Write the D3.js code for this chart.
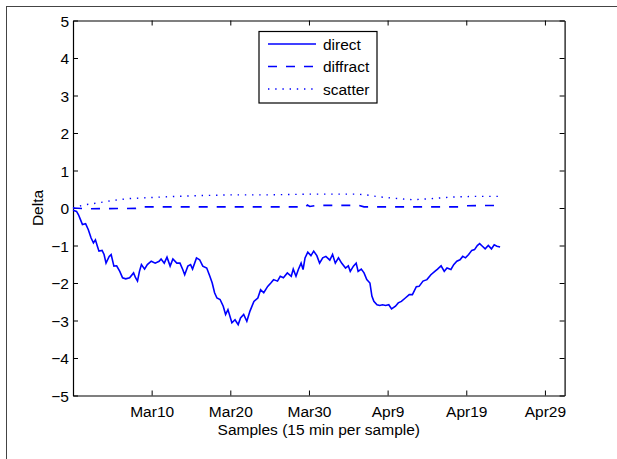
<!DOCTYPE html>
<html>
<head>
<meta charset="utf-8">
<script src="https://cdn.jsdelivr.net/npm/d3@7"></script>
<style>
  body { margin: 0; background: #fff; }
  svg text { font-family: "Liberation Sans", Arial, Helvetica, sans-serif; }
</style>
</head>
<body>
<div id="chart"></div>
<script>
// x values are days since the start of the record (Feb 28), 96 samples per day
const startDate = Date.UTC(2010, 1, 28);
const spanDays = 62.5;

const directDays = [0, 0.45, 0.7, 0.95, 1.2, 1.6, 1.95, 2.3, 2.6, 2.85, 3.1, 3.3, 3.7, 3.95, 4.2, 4.6, 4.85,
  5.2, 5.55, 5.95, 6.3, 6.7, 7.2, 7.7, 7.95, 8.2, 8.45, 8.7, 9.1, 9.45, 9.95, 10.45, 10.95, 11.2, 11.6,
  11.95, 12.35, 12.7, 13.2, 13.6, 13.95, 14.2, 14.6, 14.95, 15.2, 15.7, 16.1, 16.5, 17.0, 17.4, 17.7,
  18.0, 18.3, 18.7, 19.1, 19.4, 19.7, 20.2, 20.6, 21.0, 21.3, 21.7, 22.1, 22.5, 23.0, 23.5, 23.85,
  24.25, 24.75, 25.15, 25.5, 26.0, 26.35, 26.75, 27.25, 27.75, 28.0, 28.35, 28.65, 29.0, 29.25, 29.5,
  29.85, 30.25, 30.6, 31.0, 31.35, 31.75, 32.15, 32.65, 33.0, 33.35, 33.75, 34.15, 34.65, 35.0, 35.25,
  35.65, 36.0, 36.25, 36.65, 37.0, 37.35, 37.75, 38.0, 38.25, 38.65, 39.0, 39.35, 39.75, 40.15, 40.5,
  41.0, 41.35, 41.75, 42.25, 42.75, 43.15, 43.65, 44.0, 44.5, 45.0, 45.5, 46.0, 46.35, 46.8, 47.2,
  47.55, 48.05, 48.4, 48.8, 49.2, 49.55, 49.9, 50.3, 50.7, 51.05, 51.4, 51.7, 52.05, 52.4, 52.8, 53.2,
  53.55, 53.9, 54.3];
const directValues = [-0.06, -0.09, -0.18, -0.31, -0.44, -0.42, -0.58, -0.8, -0.93, -0.85, -1.02, -1.15,
  -1.13, -1.24, -1.47, -1.29, -1.24, -1.55, -1.54, -1.69, -1.86, -1.89, -1.86, -1.73, -1.86, -1.95,
  -1.69, -1.51, -1.63, -1.51, -1.42, -1.47, -1.42, -1.36, -1.47, -1.31, -1.55, -1.36, -1.47, -1.47,
  -1.64, -1.78, -1.55, -1.51, -1.63, -1.33, -1.38, -1.55, -1.6, -1.82, -2.0, -2.26, -2.4, -2.44, -2.62,
  -2.84, -2.71, -3.06, -2.98, -3.11, -2.93, -2.84, -3.02, -2.75, -2.49, -2.4, -2.18, -2.26, -2.09,
  -2.0, -1.91, -1.95, -1.82, -1.86, -1.73, -1.82, -1.63, -1.82, -1.64, -1.47, -1.64, -1.33, -1.18,
  -1.27, -1.15, -1.27, -1.47, -1.33, -1.29, -1.39, -1.24, -1.47, -1.33, -1.47, -1.6, -1.54, -1.69,
  -1.55, -1.47, -1.69, -1.63, -1.73, -1.91, -2.0, -2.35, -2.49, -2.58, -2.6, -2.58, -2.6, -2.58,
  -2.69, -2.62, -2.53, -2.49, -2.4, -2.31, -2.31, -2.1, -2.09, -1.95, -1.91, -1.78, -1.69, -1.63,
  -1.54, -1.69, -1.6, -1.64, -1.51, -1.42, -1.38, -1.29, -1.33, -1.24, -1.13, -1.11, -1.0, -0.95,
  -1.02, -1.09, -1.0, -1.09, -0.98, -1.02, -1.04];

const diffractDays = [0, 2, 8, 8.5, 29.6, 29.8, 30.1, 31, 36.3, 37, 49, 49.8, 54.3];
const diffractValues = [0.0, -0.02, -0.01, 0.03, 0.03, 0.08, 0.04, 0.07, 0.07, 0.03, 0.03, 0.06, 0.07];

const scatterDays = [0, 1.3, 3, 5, 7, 9, 12, 16, 20, 25, 30, 33, 36, 37.3, 38.8, 40.8, 43.2, 45.6, 48, 51, 54.3];
const scatterValues = [0.0, 0.08, 0.13, 0.2, 0.25, 0.27, 0.3, 0.33, 0.35, 0.35, 0.37, 0.37, 0.37, 0.35,
  0.3, 0.26, 0.22, 0.25, 0.29, 0.31, 0.31];

const xTickDates = ["2010-03-10", "2010-03-20", "2010-03-30", "2010-04-09", "2010-04-19", "2010-04-29"];
const yTicks = [-5, -4, -3, -2, -1, 0, 1, 2, 3, 4, 5];
const seriesNames = ["direct", "diffract", "scatter"];

const W = 617, H = 459;
const margin = {top: 20.5, left: 73, right: 52.4, bottom: 63.5};
const width = W - margin.left - margin.right,
      height = H - margin.top - margin.bottom;

const svg = d3.select("#chart").append("svg")
    .attr("width", W)
    .attr("height", H);

// figure frame (right and bottom edges fall outside the picture)
svg.append("rect")
    .attr("x", 6.5).attr("y", 6.5)
    .attr("width", W + 20).attr("height", H + 20)
    .attr("fill", "none").attr("stroke", "#444").attr("stroke-width", 1);

const chart = svg.append("g")
    .attr("transform", "translate(" + margin.left + "," + margin.top + ")");

const x = d3.scaleUtc()
    .domain([new Date(startDate), new Date(startDate + spanDays * 864e5)])
    .range([0, width]);
const y = d3.scaleLinear()
    .domain([-5, 5])
    .range([height, 0]);

const toDate = d => new Date(startDate + d * 864e5);
const tickDates = xTickDates.map(s => new Date(s + "T00:00:00Z"));
const fmt = d3.utcFormat("%b%-d");
const minus = d => (d < 0 ? "\u2212" + Math.abs(d) : "" + d);

chart.append("rect")
    .attr("width", width).attr("height", height)
    .attr("fill", "#fff");

// axes: ticks point inward, mirrored on top/right
const tickLen = 5;
const xAxis = chart.append("g")
    .attr("class", "x axis")
    .attr("transform", "translate(0," + height + ")")
    .call(d3.axisBottom(x).tickValues(tickDates).tickFormat(fmt).tickSizeInner(-tickLen).tickSizeOuter(0).tickPadding(10));
chart.append("g")
    .attr("class", "x axis top")
    .call(d3.axisTop(x).tickValues(tickDates).tickFormat("").tickSizeInner(-tickLen).tickSizeOuter(0));
const yAxis = chart.append("g")
    .attr("class", "y axis")
    .call(d3.axisLeft(y).tickValues(yTicks).tickFormat(minus).tickSizeInner(-tickLen).tickSizeOuter(0).tickPadding(4));
chart.append("g")
    .attr("class", "y axis right")
    .attr("transform", "translate(" + width + ",0)")
    .call(d3.axisRight(y).tickValues(yTicks).tickFormat("").tickSizeInner(-tickLen).tickSizeOuter(0));

chart.selectAll(".axis path").attr("stroke", "#000").attr("stroke-width", 1.2);
chart.selectAll(".axis line").attr("stroke", "#000").attr("stroke-width", 1);
chart.selectAll(".axis text").attr("fill", "#000").style("font-size", "15.5px");
chart.selectAll(".y.axis text").attr("dy", "0.36em");

// data lines
const line = d3.line()
    .x(d => x(toDate(d[0])))
    .y(d => y(d[1]));

const series = [
  {name: seriesNames[0], pts: d3.zip(directDays, directValues), dash: null, width: 1.6},
  {name: seriesNames[1], pts: d3.zip(diffractDays, diffractValues), dash: "9,9", width: 1.6},
  {name: seriesNames[2], pts: d3.zip(scatterDays, scatterValues), dash: "1.4,5.8", width: 1.4}
];

chart.selectAll("path.series")
    .data(series)
    .enter().append("path")
    .attr("class", "series")
    .attr("d", d => line(d.pts))
    .attr("fill", "none")
    .attr("stroke", "#0000ff")
    .attr("stroke-width", d => d.width)
    .attr("stroke-dasharray", d => d.dash);

// legend
const legend = chart.append("g")
    .attr("transform", "translate(" + (259 - margin.left) + "," + (31.5 - margin.top) + ")");
legend.append("rect")
    .attr("width", 118).attr("height", 71.5)
    .attr("fill", "#fff").attr("stroke", "#000").attr("stroke-width", 1.2);
const item = legend.selectAll("g.item")
    .data(series)
    .enter().append("g")
    .attr("class", "item")
    .attr("transform", (d, i) => "translate(0," + (12.5 + i * 22.5) + ")");
item.append("line")
    .attr("x1", 9).attr("x2", 57)
    .attr("stroke", "#0000ff")
    .attr("stroke-width", d => d.width)
    .attr("stroke-dasharray", d => d.dash);
item.append("text")
    .attr("x", 64).attr("dy", "0.36em")
    .style("font-size", "15.5px")
    .text(d => d.name);

// axis titles
chart.append("text")
    .attr("x", width / 2)
    .attr("y", height + 39)
    .style("text-anchor", "middle")
    .style("font-size", "15.5px")
    .text("Samples (15 min per sample)");

chart.append("text")
    .attr("transform", "rotate(-90)")
    .attr("x", 0 - (y(0)))
    .attr("y", 38 - margin.left + 5)
    .style("text-anchor", "middle")
    .style("font-size", "15.5px")
    .text("Delta");
</script>
</body>
</html>
